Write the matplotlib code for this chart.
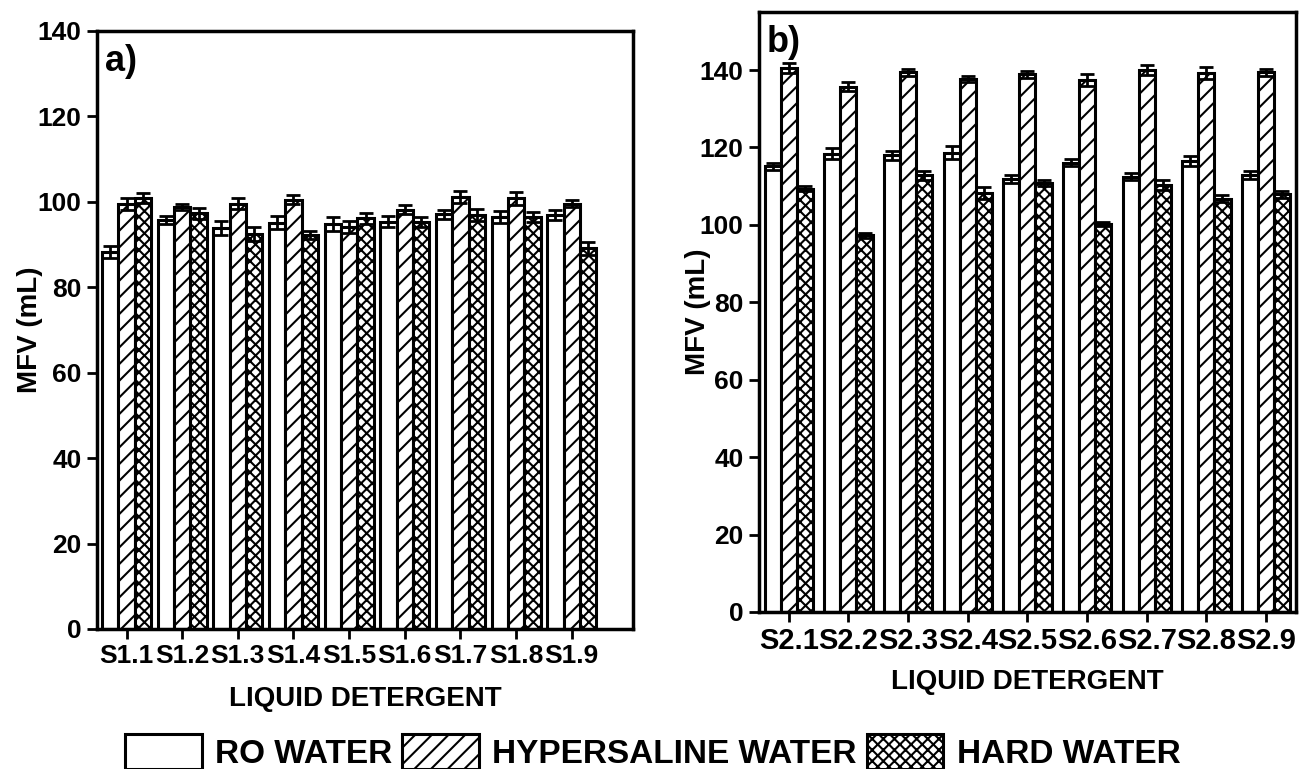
import matplotlib.pyplot as plt
import numpy as np
from matplotlib.patches import Patch

plt.rcParams['font.family'] = ['Liberation Sans', 'DejaVu Sans']
plt.rcParams['font.weight'] = 'bold'
plt.rcParams['hatch.linewidth'] = 1.5

# Mean foam volume per detergent sample, with standard deviations
samples_a = ['S1.1', 'S1.2', 'S1.3', 'S1.4', 'S1.5', 'S1.6', 'S1.7', 'S1.8', 'S1.9']
ro_a = [88.3, 95.7, 93.8, 95.1, 94.8, 95.3, 97.1, 96.5, 96.9]
hyper_a = [99.5, 98.8, 99.6, 100.5, 94.1, 98.2, 101.2, 100.8, 99.6]
hard_a = [100.9, 97.3, 92.4, 92.2, 96.2, 95.3, 96.9, 96.5, 89.1]
ro_a_err = [1.4, 1.0, 1.6, 1.5, 1.6, 1.3, 1.1, 1.4, 1.1]
hyper_a_err = [1.5, 0.8, 1.2, 1.0, 1.4, 1.0, 1.4, 1.5, 0.9]
hard_a_err = [1.2, 1.3, 1.6, 0.9, 1.3, 1.2, 1.4, 1.2, 1.5]

samples_b = ['S2.1', 'S2.2', 'S2.3', 'S2.4', 'S2.5', 'S2.6', 'S2.7', 'S2.8', 'S2.9']
ro_b = [115.1, 118.4, 118.0, 118.7, 111.8, 116.1, 112.5, 116.5, 112.8]
hyper_b = [140.6, 135.7, 139.4, 137.6, 138.9, 137.4, 140.0, 139.2, 139.4]
hard_b = [109.4, 97.3, 112.8, 108.2, 110.9, 100.2, 110.3, 106.8, 107.9]
ro_b_err = [1.0, 1.5, 1.2, 1.6, 1.0, 1.0, 1.0, 1.2, 1.0]
hyper_b_err = [1.3, 1.2, 0.9, 0.8, 0.9, 1.6, 1.3, 1.6, 0.9]
hard_b_err = [0.6, 0.6, 1.2, 1.5, 0.8, 0.6, 1.3, 0.9, 0.9]

labels = ['RO WATER', 'HYPERSALINE WATER', 'HARD WATER']
hatches = ['', '//', 'xxx']

fig = plt.figure(figsize=(13.02, 7.69), dpi=100)
ax_a = fig.add_axes([0.0745, 0.1821, 0.4117, 0.7776])
ax_b = fig.add_axes([0.5829, 0.2042, 0.4124, 0.7802])


def draw_panel(ax, samples, series, errors, width, xlim, ylim, tick_size,
               tag, ylab_x, xlab_pad):
    x = np.arange(1, len(samples) + 1)
    for i, (vals, errs) in enumerate(zip(series, errors)):
        pos = x + (i - 1) * width
        ax.bar(pos, vals, width, color='white', edgecolor='black',
               linewidth=2.2, hatch=hatches[i], zorder=2)
        ax.errorbar(pos, vals, yerr=errs, fmt='none', ecolor='black',
                    elinewidth=2, capsize=5, capthick=2, zorder=3)
    ax.set_xlim(*xlim)
    ax.set_ylim(*ylim)
    ax.set_yticks(range(0, 141, 20))
    ax.set_xticks(x)
    ax.set_xticklabels(samples)
    for s in ax.spines.values():
        s.set_linewidth(2.5)
    ax.tick_params(axis='both', direction='out', length=7, width=2,
                   top=False, right=False)
    ax.tick_params(axis='y', labelsize=19, pad=4)
    ax.tick_params(axis='x', labelsize=tick_size, pad=4)
    for lab in ax.get_xticklabels() + ax.get_yticklabels():
        lab.set_fontweight('bold')
    ax.set_ylabel('MFV (mL)', fontsize=20, fontweight='bold')
    ax.yaxis.set_label_coords(ylab_x, 0.5)
    ax.set_xlabel('LIQUID DETERGENT', fontsize=20, fontweight='bold',
                  labelpad=xlab_pad)
    ax.text(0.015, 0.978, tag, transform=ax.transAxes, fontsize=26,
            fontweight='bold', ha='left', va='top')


draw_panel(ax_a, samples_a, [ro_a, hyper_a, hard_a],
           [ro_a_err, hyper_a_err, hard_a_err], 0.294, (0.47, 10.1), (0, 140),
           19, 'a)', -0.1, 13)
draw_panel(ax_b, samples_b, [ro_b, hyper_b, hard_b],
           [ro_b_err, hyper_b_err, hard_b_err], 0.27, (0.5, 9.5), (0, 155),
           21, 'b)', -0.09, 10)

handles = [Patch(facecolor='white', edgecolor='black', linewidth=2.2, hatch=h)
           for h in hatches]
fig.legend(handles, labels, loc='upper left', bbox_to_anchor=(125 / 1302, 1 - 734 / 769),
           ncol=3, frameon=False, prop={'size': 24, 'weight': 'bold'},
           handlelength=2.3, handleheight=1.25, handletextpad=0.4,
           columnspacing=0.3, borderpad=0, borderaxespad=0)

fig.savefig('out.png', dpi=100)
